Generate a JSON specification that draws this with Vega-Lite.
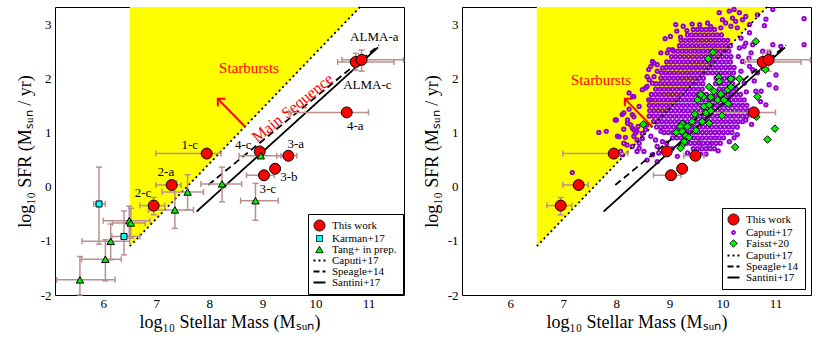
{
"$schema":"https://vega.github.io/schema/vega-lite/v6.json",
"padding":{"left":15,"top":2,"right":5,"bottom":2},
"background":"white",
"config":{
 "view":{"stroke":"black","strokeWidth":1},
 "axis":{"domain":false,"grid":false,"tickSize":0,"tickColor":"black","tickWidth":1,"labelFont":"Liberation Serif","labelFontSize":13,"labelColor":"black","labelOverlap":false,"labelFlush":false,"titleFont":"Liberation Serif","titleFontSize":18,"titleFontWeight":"normal","titleColor":"black"},
 "text":{"font":"Liberation Serif"}
},
"datasets":{
 "tri":[{"m":6.5,"s":-1.1,"top":3.315},{"m":10.84,"s":3.315,"top":3.315}],
 "lines":[{"series":"Caputi+17","m":6.5,"s":-1.1},{"series":"Caputi+17","m":10.84,"s":3.315},{"series":"Speagle+14","m":7.98,"s":0.03},{"series":"Speagle+14","m":11.2,"s":2.61},{"series":"Santini+17","m":7.76,"s":-0.46},{"series":"Santini+17","m":11.18,"s":2.57}],
 "arrow":[{"m":8.67,"s":1.11,"m2":8.16,"s2":1.62}],
 "notes":[{"t":"Starbursts","p":"L","m":8.75,"s":2.19},{"t":"Starbursts","p":"R","m":7.71,"s":1.96},{"t":"Main Sequence","p":"L","m":9.57,"s":1.45},{"t":"3-a","p":"R","m":9.66,"s":0.78}],
 "labs":[{"t":"1-c","m":7.63,"s":0.77},{"t":"2-a","m":7.18,"s":0.27},{"t":"2-c","m":6.75,"s":-0.12},{"t":"4-c","m":8.64,"s":0.76},{"t":"3-a","m":9.63,"s":0.78},{"t":"3-b","m":9.5,"s":0.17},{"t":"3-c","m":9.1,"s":-0.04},{"t":"4-a","m":10.75,"s":1.12},{"t":"ALMA-a","m":11.11,"s":2.77},{"t":"ALMA-c","m":10.98,"s":1.88}],
 "pts":[
  {"series":"This work","m":6.95,"s":-0.35,"xlo":6.69,"xhi":7.16,"ylo":-0.52,"yhi":-0.2},
  {"series":"This work","m":7.29,"s":0.03,"xlo":6.99,"xhi":7.47},
  {"series":"This work","m":7.95,"s":0.61,"xlo":6.99,"xhi":8.22},
  {"series":"This work","m":8.95,"s":0.65},
  {"series":"This work","m":9.03,"s":0.21,"xlo":8.7,"xhi":9.22},
  {"series":"This work","m":9.24,"s":0.33},
  {"series":"This work","m":9.49,"s":0.57,"xlo":9.27,"xhi":9.65},
  {"series":"This work","m":10.59,"s":1.37,"xlo":9.5,"xhi":11.0},
  {"series":"This work","m":10.76,"s":2.3,"xlo":10.42,"xhi":11.48,"ylo":2.15,"yhi":2.46},
  {"series":"This work","m":10.87,"s":2.34,"xlo":10.5,"xhi":11.66,"ylo":2.13,"yhi":2.52},
  {"series":"Karman+17","m":5.92,"s":-0.32,"xlo":5.82,"xhi":6.04,"ylo":-1.06,"yhi":0.36},
  {"series":"Karman+17","m":6.39,"s":-0.92,"xlo":6.16,"xhi":6.69,"ylo":-1.26,"yhi":-0.45},
  {"series":"Tang+ in prep.","m":5.56,"s":-1.72,"xlo":5.12,"xhi":6.22,"ylo":-2.0,"yhi":-1.29},
  {"series":"Tang+ in prep.","m":6.04,"s":-1.34,"xlo":5.59,"xhi":6.34,"ylo":-1.74,"yhi":-0.98},
  {"series":"Tang+ in prep.","m":6.14,"s":-1.01,"xlo":5.6,"xhi":6.5,"ylo":-1.35,"yhi":-0.69},
  {"series":"Tang+ in prep.","m":6.49,"s":-0.63,"xlo":6.0,"xhi":6.88,"ylo":-0.92,"yhi":-0.36},
  {"series":"Tang+ in prep.","m":6.52,"s":-0.67,"xlo":6.17,"xhi":6.79,"ylo":-0.95,"yhi":-0.4},
  {"series":"Tang+ in prep.","m":7.35,"s":-0.43,"xlo":6.85,"xhi":7.7,"ylo":-0.77,"yhi":0.1},
  {"series":"Tang+ in prep.","m":7.59,"s":-0.1,"xlo":7.11,"xhi":7.89,"ylo":-0.43,"yhi":0.22},
  {"series":"Tang+ in prep.","m":8.24,"s":0.05,"xlo":7.84,"xhi":8.61,"ylo":-0.28,"yhi":0.36},
  {"series":"Tang+ in prep.","m":8.97,"s":0.57,"xlo":8.56,"xhi":9.35},
  {"series":"Tang+ in prep.","m":8.87,"s":-0.26,"xlo":8.59,"xhi":9.3,"ylo":-0.62,"yhi":0.06},
  {"series":"Faisst+20","m":8.51,"s":1.15},{"series":"Faisst+20","m":9.73,"s":2.36},{"series":"Faisst+20","m":9.82,"s":2.48},{"series":"Faisst+20","m":10.63,"s":2.68},{"series":"Faisst+20","m":10.81,"s":2.16},{"series":"Faisst+20","m":10.66,"s":1.66},{"series":"Faisst+20","m":10.64,"s":1.29},{"series":"Faisst+20","m":10.24,"s":0.73},{"series":"Faisst+20","m":10.85,"s":0.87},{"series":"Faisst+20","m":10.99,"s":1.07},{"series":"Faisst+20","m":9.93,"s":2.02},{"series":"Faisst+20","m":10.16,"s":1.99},{"series":"Faisst+20","m":10.32,"s":1.99},{"series":"Faisst+20","m":9.75,"s":1.84},{"series":"Faisst+20","m":9.84,"s":1.76},{"series":"Faisst+20","m":9.94,"s":1.94},{"series":"Faisst+20","m":10.1,"s":1.79},{"series":"Faisst+20","m":10.16,"s":1.84},{"series":"Faisst+20","m":9.64,"s":1.66},{"series":"Faisst+20","m":9.78,"s":1.65},{"series":"Faisst+20","m":9.97,"s":1.71},{"series":"Faisst+20","m":9.91,"s":1.6},{"series":"Faisst+20","m":10.03,"s":1.6},{"series":"Faisst+20","m":9.53,"s":1.6},{"series":"Faisst+20","m":9.65,"s":1.48},{"series":"Faisst+20","m":9.75,"s":1.51},{"series":"Faisst+20","m":10.11,"s":1.53},{"series":"Faisst+20","m":9.99,"s":1.31},{"series":"Faisst+20","m":9.48,"s":1.34},{"series":"Faisst+20","m":9.69,"s":1.36},{"series":"Faisst+20","m":9.78,"s":1.4},{"series":"Faisst+20","m":9.62,"s":1.2},{"series":"Faisst+20","m":9.75,"s":1.17},{"series":"Faisst+20","m":9.24,"s":1.16},{"series":"Faisst+20","m":9.21,"s":1.11},{"series":"Faisst+20","m":9.34,"s":1.11},{"series":"Faisst+20","m":9.43,"s":1.2},{"series":"Faisst+20","m":9.5,"s":1.04},{"series":"Faisst+20","m":9.13,"s":1.0},{"series":"Faisst+20","m":9.24,"s":1.02},{"series":"Faisst+20","m":9.31,"s":0.94},{"series":"Faisst+20","m":9.37,"s":0.91},{"series":"Faisst+20","m":9.28,"s":0.83},{"series":"Faisst+20","m":9.23,"s":0.75},{"series":"Faisst+20","m":9.21,"s":0.71},{"series":"Faisst+20","m":9.59,"s":1.7}
 ],
 "caputi":[
  {"m":9.45,"s":2.9},{"m":9.53,"s":2.9},{"m":9.61,"s":2.9},{"m":9.69,"s":2.9},{"m":9.77,"s":2.9},{"m":9.85,"s":2.9},
  {"m":9.34,"s":2.8},{"m":9.42,"s":2.8},{"m":9.5,"s":2.8},{"m":9.58,"s":2.8},{"m":9.66,"s":2.8},{"m":9.74,"s":2.8},{"m":9.82,"s":2.8},{"m":9.9,"s":2.8},{"m":9.98,"s":2.8},
  {"m":9.22,"s":2.7},{"m":9.3,"s":2.7},{"m":9.38,"s":2.7},{"m":9.46,"s":2.7},{"m":9.54,"s":2.7},{"m":9.62,"s":2.7},{"m":9.7,"s":2.7},{"m":9.78,"s":2.7},{"m":9.86,"s":2.7},{"m":9.94,"s":2.7},{"m":10.02,"s":2.7},{"m":10.1,"s":2.7},
  {"m":9.19,"s":2.6},{"m":9.27,"s":2.6},{"m":9.35,"s":2.6},{"m":9.43,"s":2.6},{"m":9.51,"s":2.6},{"m":9.59,"s":2.6},{"m":9.67,"s":2.6},{"m":9.75,"s":2.6},{"m":9.83,"s":2.6},{"m":9.91,"s":2.6},{"m":9.99,"s":2.6},{"m":10.07,"s":2.6},{"m":10.15,"s":2.6},
  {"m":9.08,"s":2.5},{"m":9.16,"s":2.5},{"m":9.24,"s":2.5},{"m":9.32,"s":2.5},{"m":9.4,"s":2.5},{"m":9.48,"s":2.5},{"m":9.56,"s":2.5},{"m":9.64,"s":2.5},{"m":9.72,"s":2.5},{"m":9.8,"s":2.5},{"m":9.88,"s":2.5},{"m":9.96,"s":2.5},{"m":10.04,"s":2.5},{"m":10.12,"s":2.5},
  {"m":9.04,"s":2.4},{"m":9.12,"s":2.4},{"m":9.2,"s":2.4},{"m":9.28,"s":2.4},{"m":9.36,"s":2.4},{"m":9.44,"s":2.4},{"m":9.52,"s":2.4},{"m":9.6,"s":2.4},{"m":9.68,"s":2.4},{"m":9.76,"s":2.4},{"m":9.84,"s":2.4},{"m":9.92,"s":2.4},{"m":10.0,"s":2.4},{"m":10.08,"s":2.4},{"m":10.16,"s":2.4},
  {"m":8.95,"s":2.3},{"m":9.03,"s":2.3},{"m":9.11,"s":2.3},{"m":9.19,"s":2.3},{"m":9.27,"s":2.3},{"m":9.35,"s":2.3},{"m":9.43,"s":2.3},{"m":9.51,"s":2.3},{"m":9.59,"s":2.3},{"m":9.67,"s":2.3},{"m":9.75,"s":2.3},{"m":9.83,"s":2.3},{"m":9.91,"s":2.3},{"m":9.99,"s":2.3},{"m":10.07,"s":2.3},{"m":10.15,"s":2.3},
  {"m":8.94,"s":2.2},{"m":9.02,"s":2.2},{"m":9.1,"s":2.2},{"m":9.18,"s":2.2},{"m":9.26,"s":2.2},{"m":9.34,"s":2.2},{"m":9.42,"s":2.2},{"m":9.5,"s":2.2},{"m":9.58,"s":2.2},{"m":9.66,"s":2.2},{"m":9.74,"s":2.2},{"m":9.82,"s":2.2},{"m":9.9,"s":2.2},{"m":9.98,"s":2.2},{"m":10.06,"s":2.2},{"m":10.14,"s":2.2},{"m":10.22,"s":2.2},
  {"m":8.85,"s":2.1},{"m":8.93,"s":2.1},{"m":9.01,"s":2.1},{"m":9.09,"s":2.1},{"m":9.17,"s":2.1},{"m":9.25,"s":2.1},{"m":9.33,"s":2.1},{"m":9.41,"s":2.1},{"m":9.49,"s":2.1},{"m":9.57,"s":2.1},{"m":9.65,"s":2.1},{"m":9.73,"s":2.1},{"m":9.81,"s":2.1},{"m":9.89,"s":2.1},{"m":9.97,"s":2.1},{"m":10.05,"s":2.1},{"m":10.13,"s":2.1},{"m":10.21,"s":2.1},
  {"m":8.84,"s":2.0},{"m":8.92,"s":2.0},{"m":9.0,"s":2.0},{"m":9.08,"s":2.0},{"m":9.16,"s":2.0},{"m":9.24,"s":2.0},{"m":9.32,"s":2.0},{"m":9.4,"s":2.0},{"m":9.48,"s":2.0},{"m":9.56,"s":2.0},{"m":9.64,"s":2.0},{"m":9.88,"s":2.0},{"m":9.96,"s":2.0},{"m":10.04,"s":2.0},{"m":10.12,"s":2.0},{"m":10.2,"s":2.0},
  {"m":8.75,"s":1.9},{"m":8.83,"s":1.9},{"m":8.91,"s":1.9},{"m":8.99,"s":1.9},{"m":9.07,"s":1.9},{"m":9.15,"s":1.9},{"m":9.23,"s":1.9},{"m":9.31,"s":1.9},{"m":9.39,"s":1.9},{"m":9.47,"s":1.9},{"m":9.55,"s":1.9},{"m":9.63,"s":1.9},{"m":9.87,"s":1.9},{"m":9.95,"s":1.9},{"m":10.03,"s":1.9},{"m":10.11,"s":1.9},{"m":10.19,"s":1.9},
  {"m":8.74,"s":1.8},{"m":8.82,"s":1.8},{"m":8.9,"s":1.8},{"m":8.98,"s":1.8},{"m":9.06,"s":1.8},{"m":9.14,"s":1.8},{"m":9.22,"s":1.8},{"m":9.3,"s":1.8},{"m":9.38,"s":1.8},{"m":9.46,"s":1.8},{"m":9.54,"s":1.8},{"m":9.62,"s":1.8},{"m":9.94,"s":1.8},{"m":10.02,"s":1.8},{"m":10.1,"s":1.8},{"m":10.18,"s":1.8},{"m":10.26,"s":1.8},
  {"m":8.66,"s":1.7},{"m":8.74,"s":1.7},{"m":8.82,"s":1.7},{"m":8.9,"s":1.7},{"m":8.98,"s":1.7},{"m":9.06,"s":1.7},{"m":9.14,"s":1.7},{"m":9.22,"s":1.7},{"m":9.3,"s":1.7},{"m":9.38,"s":1.7},{"m":9.46,"s":1.7},{"m":9.54,"s":1.7},{"m":9.62,"s":1.7},{"m":9.7,"s":1.7},{"m":9.86,"s":1.7},{"m":9.94,"s":1.7},{"m":10.02,"s":1.7},{"m":10.1,"s":1.7},{"m":10.18,"s":1.7},{"m":10.26,"s":1.7},{"m":10.34,"s":1.7},
  {"m":8.65,"s":1.6},{"m":8.73,"s":1.6},{"m":8.81,"s":1.6},{"m":8.89,"s":1.6},{"m":8.97,"s":1.6},{"m":9.05,"s":1.6},{"m":9.13,"s":1.6},{"m":9.21,"s":1.6},{"m":9.29,"s":1.6},{"m":9.37,"s":1.6},{"m":9.45,"s":1.6},{"m":9.53,"s":1.6},{"m":9.61,"s":1.6},{"m":9.69,"s":1.6},{"m":9.77,"s":1.6},{"m":9.85,"s":1.6},{"m":9.93,"s":1.6},{"m":10.01,"s":1.6},{"m":10.09,"s":1.6},{"m":10.17,"s":1.6},{"m":10.25,"s":1.6},{"m":10.33,"s":1.6},{"m":10.41,"s":1.6},
  {"m":8.62,"s":1.5},{"m":8.7,"s":1.5},{"m":8.78,"s":1.5},{"m":8.86,"s":1.5},{"m":8.94,"s":1.5},{"m":9.02,"s":1.5},{"m":9.1,"s":1.5},{"m":9.18,"s":1.5},{"m":9.26,"s":1.5},{"m":9.34,"s":1.5},{"m":9.42,"s":1.5},{"m":9.5,"s":1.5},{"m":9.58,"s":1.5},{"m":9.66,"s":1.5},{"m":9.74,"s":1.5},{"m":9.82,"s":1.5},{"m":9.9,"s":1.5},{"m":9.98,"s":1.5},{"m":10.06,"s":1.5},{"m":10.14,"s":1.5},{"m":10.22,"s":1.5},{"m":10.3,"s":1.5},{"m":10.38,"s":1.5},{"m":10.46,"s":1.5},
  {"m":8.63,"s":1.4},{"m":8.71,"s":1.4},{"m":8.79,"s":1.4},{"m":8.87,"s":1.4},{"m":8.95,"s":1.4},{"m":9.03,"s":1.4},{"m":9.11,"s":1.4},{"m":9.19,"s":1.4},{"m":9.27,"s":1.4},{"m":9.35,"s":1.4},{"m":9.43,"s":1.4},{"m":9.51,"s":1.4},{"m":9.59,"s":1.4},{"m":9.67,"s":1.4},{"m":9.75,"s":1.4},{"m":9.83,"s":1.4},{"m":9.91,"s":1.4},{"m":9.99,"s":1.4},{"m":10.07,"s":1.4},{"m":10.15,"s":1.4},{"m":10.23,"s":1.4},{"m":10.31,"s":1.4},{"m":10.39,"s":1.4},{"m":10.47,"s":1.4},
  {"m":8.62,"s":1.3},{"m":8.7,"s":1.3},{"m":8.78,"s":1.3},{"m":8.86,"s":1.3},{"m":8.94,"s":1.3},{"m":9.02,"s":1.3},{"m":9.1,"s":1.3},{"m":9.18,"s":1.3},{"m":9.26,"s":1.3},{"m":9.34,"s":1.3},{"m":9.42,"s":1.3},{"m":9.5,"s":1.3},{"m":9.58,"s":1.3},{"m":9.66,"s":1.3},{"m":9.74,"s":1.3},{"m":9.82,"s":1.3},{"m":9.9,"s":1.3},{"m":9.98,"s":1.3},{"m":10.06,"s":1.3},{"m":10.14,"s":1.3},{"m":10.22,"s":1.3},{"m":10.3,"s":1.3},{"m":10.38,"s":1.3},{"m":10.46,"s":1.3},
  {"m":8.7,"s":1.2},{"m":8.78,"s":1.2},{"m":8.86,"s":1.2},{"m":8.94,"s":1.2},{"m":9.02,"s":1.2},{"m":9.1,"s":1.2},{"m":9.18,"s":1.2},{"m":9.26,"s":1.2},{"m":9.34,"s":1.2},{"m":9.42,"s":1.2},{"m":9.5,"s":1.2},{"m":9.58,"s":1.2},{"m":9.66,"s":1.2},{"m":9.74,"s":1.2},{"m":9.82,"s":1.2},{"m":9.9,"s":1.2},{"m":9.98,"s":1.2},{"m":10.06,"s":1.2},{"m":10.14,"s":1.2},{"m":10.22,"s":1.2},{"m":10.3,"s":1.2},{"m":10.38,"s":1.2},
  {"m":8.76,"s":1.1},{"m":8.84,"s":1.1},{"m":8.92,"s":1.1},{"m":9.0,"s":1.1},{"m":9.08,"s":1.1},{"m":9.16,"s":1.1},{"m":9.24,"s":1.1},{"m":9.32,"s":1.1},{"m":9.4,"s":1.1},{"m":9.48,"s":1.1},{"m":9.56,"s":1.1},{"m":9.64,"s":1.1},{"m":9.72,"s":1.1},{"m":9.8,"s":1.1},{"m":9.88,"s":1.1},{"m":9.96,"s":1.1},{"m":10.04,"s":1.1},{"m":10.12,"s":1.1},{"m":10.2,"s":1.1},{"m":10.28,"s":1.1},
  {"m":8.9,"s":1.0},{"m":8.98,"s":1.0},{"m":9.06,"s":1.0},{"m":9.14,"s":1.0},{"m":9.22,"s":1.0},{"m":9.3,"s":1.0},{"m":9.38,"s":1.0},{"m":9.46,"s":1.0},{"m":9.54,"s":1.0},{"m":9.62,"s":1.0},{"m":9.7,"s":1.0},{"m":9.78,"s":1.0},{"m":9.86,"s":1.0},{"m":9.94,"s":1.0},{"m":10.02,"s":1.0},{"m":10.1,"s":1.0},{"m":10.18,"s":1.0},
  {"m":9.06,"s":0.9},{"m":9.14,"s":0.9},{"m":9.22,"s":0.9},{"m":9.3,"s":0.9},{"m":9.38,"s":0.9},{"m":9.46,"s":0.9},{"m":9.54,"s":0.9},{"m":9.62,"s":0.9},{"m":9.7,"s":0.9},{"m":9.78,"s":0.9},{"m":9.86,"s":0.9},{"m":9.94,"s":0.9},{"m":10.02,"s":0.9},
  {"m":9.24,"s":0.8},{"m":9.32,"s":0.8},{"m":9.4,"s":0.8},{"m":9.48,"s":0.8},{"m":9.56,"s":0.8},{"m":9.64,"s":0.8},{"m":9.72,"s":0.8},{"m":9.8,"s":0.8},{"m":9.88,"s":0.8},{"m":9.96,"s":0.8},
  {"m":9.45,"s":0.7},{"m":9.53,"s":0.7},{"m":9.61,"s":0.7},{"m":9.69,"s":0.7},{"m":9.77,"s":0.7},{"m":9.85,"s":0.7},
  {"m":8.92,"s":2.73},{"m":9.14,"s":2.87},{"m":9.26,"s":2.96},{"m":9.33,"s":2.88},{"m":9.43,"s":3.0},{"m":9.57,"s":2.99},{"m":9.72,"s":3.02},{"m":9.78,"s":2.95},{"m":9.21,"s":2.76},{"m":9.06,"s":2.53},{"m":8.96,"s":2.47},{"m":8.71,"s":2.28},{"m":8.65,"s":2.22},{"m":8.87,"s":2.19},{"m":8.77,"s":2.13},{"m":8.71,"s":2.03},{"m":8.62,"s":1.97},{"m":8.68,"s":1.91},{"m":8.31,"s":1.66},{"m":8.49,"s":1.79},{"m":8.58,"s":1.85},
  {"m":9.94,"s":3.21},{"m":10.0,"s":3.08},{"m":10.13,"s":3.24},{"m":10.22,"s":3.27},{"m":10.32,"s":3.21},{"m":10.19,"s":3.11},{"m":10.06,"s":3.02},{"m":9.97,"s":2.93},{"m":10.16,"s":2.96},{"m":10.25,"s":3.05},{"m":10.38,"s":3.08},{"m":10.28,"s":2.93},{"m":10.44,"s":3.14},{"m":10.51,"s":2.99},{"m":10.95,"s":3.27},{"m":11.54,"s":3.1},
  {"m":10.51,"s":2.84},{"m":10.35,"s":2.74},{"m":10.44,"s":2.65},{"m":10.57,"s":2.62},{"m":10.32,"s":2.56},{"m":10.54,"s":2.47},{"m":10.76,"s":2.5},{"m":10.95,"s":2.62},{"m":11.1,"s":2.59},{"m":10.38,"s":2.31},{"m":10.51,"s":2.22},{"m":10.35,"s":2.13},{"m":11.01,"s":2.06},{"m":10.88,"s":1.88},{"m":10.63,"s":1.76},{"m":11.01,"s":1.82},{"m":11.54,"s":2.62},{"m":10.3,"s":2.4},{"m":10.79,"s":2.97},{"m":10.82,"s":3.09},{"m":10.66,"s":3.17},{"m":10.73,"s":1.76},{"m":10.66,"s":2.1},
  {"m":8.24,"s":1.43},{"m":8.14,"s":1.36},{"m":8.33,"s":1.29},{"m":8.21,"s":1.23},{"m":8.0,"s":1.23},{"m":8.27,"s":1.14},{"m":8.14,"s":1.06},{"m":8.33,"s":1.05},{"m":7.67,"s":1.0},{"m":7.81,"s":1.02},{"m":8.02,"s":0.93},{"m":8.17,"s":0.91},{"m":8.33,"s":0.93},{"m":8.49,"s":0.98},{"m":8.43,"s":0.8},{"m":8.2,"s":0.77},{"m":8.43,"s":0.71},{"m":8.52,"s":0.65},{"m":8.58,"s":0.49},{"m":8.68,"s":0.59},{"m":8.77,"s":0.74},{"m":8.65,"s":0.93},{"m":8.74,"s":0.86},{"m":8.55,"s":1.05},{"m":8.58,"s":1.14},{"m":8.84,"s":1.02},{"m":8.87,"s":0.83},{"m":8.14,"s":0.8},{"m":8.49,"s":0.89},{"m":8.08,"s":0.65},{"m":8.11,"s":0.59},{"m":8.39,"s":0.86},{"m":8.8,"s":0.62},{"m":8.77,"s":0.46},
  {"m":10.82,"s":1.51},{"m":10.72,"s":1.57},{"m":10.28,"s":0.96},{"m":10.22,"s":0.9},{"m":10.13,"s":0.83},{"m":9.69,"s":0.6},{"m":9.92,"s":0.66},{"m":10.44,"s":1.23},{"m":10.5,"s":1.36},{"m":10.55,"s":1.15},{"m":9.15,"s":0.56},{"m":9.34,"s":0.62},{"m":9.59,"s":0.6},{"m":7.17,"s":0.26},
  {"m":8.11,"s":1.33},{"m":8.21,"s":1.17},{"m":8.3,"s":1.08},{"m":8.39,"s":1.02},{"m":8.58,"s":2.03},{"m":8.84,"s":2.47},{"m":9.02,"s":2.77},{"m":9.12,"s":2.99},{"m":8.61,"s":1.6},{"m":8.77,"s":2.25},{"m":8.99,"s":2.53},{"m":8.61,"s":2.16},{"m":8.68,"s":2.31},{"m":8.33,"s":1.66},{"m":8.24,"s":1.73},{"m":8.55,"s":1.82},{"m":8.43,"s":1.48},{"m":8.3,"s":1.33},{"m":7.98,"s":1.23},{"m":8.05,"s":0.92},{"m":8.41,"s":1.11},{"m":8.36,"s":0.99},{"m":8.3,"s":0.74},{"m":8.39,"s":0.65},
  {"m":10.41,"s":2.59},{"m":10.5,"s":2.37},{"m":10.57,"s":2.16},{"m":10.41,"s":1.91},{"m":10.88,"s":2.47},{"m":10.6,"s":1.95},{"m":10.45,"s":1.75},{"m":9.05,"s":0.7},{"m":8.95,"s":0.8}
 ]
},
"spacing":17,
"resolve":{"scale":{"fill":"independent"},"legend":{"fill":"independent"}},
"hconcat":[
 {
  "width":349,"height":288,
  "resolve":{"axis":{"x":"independent","y":"independent"}},
  "layer":[
   {"data":{"name":"tri"},"mark":{"type":"area","color":"#ffff00","opacity":1},
    "encoding":{
     "x":{"field":"m","type":"quantitative","scale":{"domain":[5.09,11.67],"nice":false,"zero":false},
      "axis":{"orient":"bottom","values":[5.2,5.4,5.6,5.8,6,6.2,6.4,6.6,6.8,7,7.2,7.4,7.6,7.8,8,8.2,8.4,8.6,8.8,9,9.2,9.4,9.6,9.8,10,10.2,10.4,10.6,10.8,11,11.2,11.4,11.6],"labelExpr":"abs(datum.value-round(datum.value))<0.001 ? ''+round(datum.value) : ''","title":"log₁₀ Stellar Mass (Mₛᵤₙ)","labelPadding":2,"titlePadding":3,"encode":{"ticks":{"update":{"y2":{"signal":"abs(datum.value-round(datum.value))<0.001 ? -6 : -3"}}}}}},
     "y":{"field":"s","type":"quantitative","scale":{"domain":[-2,3.315],"nice":false,"zero":false},
      "axis":{"orient":"left","values":[-2,-1.8,-1.6,-1.4,-1.2,-1,-0.8,-0.6,-0.4,-0.2,0,0.2,0.4,0.6,0.8,1,1.2,1.4,1.6,1.8,2,2.2,2.4,2.6,2.8,3,3.2],"labelExpr":"abs(datum.value-round(datum.value))<0.001 ? ''+round(datum.value) : ''","title":"log₁₀ SFR (Mₛᵤₙ / yr)","labelPadding":4,"titlePadding":6,"encode":{"ticks":{"update":{"x2":{"signal":"abs(datum.value-round(datum.value))<0.001 ? 6 : 3"}}}}}},
     "y2":{"field":"top"}}},
   {"data":{"name":"lines"},"mark":{"type":"line","color":"black","strokeWidth":1.8},
    "encoding":{
     "x":{"field":"m","type":"quantitative","axis":{"orient":"top","values":[5.2,5.4,5.6,5.8,6,6.2,6.4,6.6,6.8,7,7.2,7.4,7.6,7.8,8,8.2,8.4,8.6,8.8,9,9.2,9.4,9.6,9.8,10,10.2,10.4,10.6,10.8,11,11.2,11.4,11.6],"labels":false,"title":null,"encode":{"ticks":{"update":{"y2":{"signal":"abs(datum.value-round(datum.value))<0.001 ? 6 : 3"}}}}}},
     "y":{"field":"s","type":"quantitative","axis":{"orient":"right","values":[-2,-1.8,-1.6,-1.4,-1.2,-1,-0.8,-0.6,-0.4,-0.2,0,0.2,0.4,0.6,0.8,1,1.2,1.4,1.6,1.8,2,2.2,2.4,2.6,2.8,3,3.2],"labels":false,"title":null,"encode":{"ticks":{"update":{"x2":{"signal":"abs(datum.value-round(datum.value))<0.001 ? -6 : -3"}}}}}},
     "strokeDash":{"field":"series","type":"nominal","scale":{"domain":["Caputi+17","Speagle+14","Santini+17"],"range":[[2,3],[7,4],[1,0]]},"legend":null}}},
   {"data":{"name":"arrow"},"mark":{"type":"rule","color":"#ff0000","strokeWidth":2},
    "encoding":{"x":{"field":"m","type":"quantitative","axis":null},"y":{"field":"s","type":"quantitative","axis":null},"x2":{"field":"m2"},"y2":{"field":"s2"}}},
   {"data":{"name":"arrow"},"mark":{"type":"point","shape":"M-1,1L0,0L1,1","angle":-45,"size":110,"filled":false,"color":"#ff0000","strokeWidth":2,"opacity":1},
    "encoding":{"x":{"field":"m2","type":"quantitative","axis":null},"y":{"field":"s2","type":"quantitative","axis":null}}},
   {"data":{"name":"notes"},"transform":[{"filter":"datum.p==='L' && datum.t==='Starbursts'"}],"mark":{"type":"text","font":"Liberation Serif","fontSize":15,"color":"#ff0000"},
    "encoding":{"x":{"field":"m","type":"quantitative","axis":null},"y":{"field":"s","type":"quantitative","axis":null},"text":{"field":"t"}}},
   {"data":{"name":"notes"},"transform":[{"filter":"datum.t==='Main Sequence'"}],"mark":{"type":"text","font":"Liberation Serif","fontSize":16,"color":"#ff0000","angle":-39},
    "encoding":{"x":{"field":"m","type":"quantitative","axis":null},"y":{"field":"s","type":"quantitative","axis":null},"text":{"field":"t"}}},
   {"data":{"name":"pts"},"transform":[{"filter":"datum.series!=='Faisst+20' && isValid(datum.xlo)"}],"mark":{"type":"rule","color":"#bc8f8f","strokeWidth":1.5},
    "encoding":{"x":{"field":"xlo","type":"quantitative","axis":null},"x2":{"field":"xhi"},"y":{"field":"s","type":"quantitative","axis":null}}},
   {"data":{"name":"pts"},"transform":[{"filter":"datum.series!=='Faisst+20' && isValid(datum.xlo)"},{"fold":["xlo","xhi"],"as":["k","v"]}],"mark":{"type":"tick","orient":"vertical","color":"#bc8f8f","size":6,"thickness":1.5,"opacity":1},
    "encoding":{"x":{"field":"v","type":"quantitative","axis":null},"y":{"field":"s","type":"quantitative","axis":null}}},
   {"data":{"name":"pts"},"transform":[{"filter":"datum.series!=='Faisst+20' && isValid(datum.ylo)"}],"mark":{"type":"rule","color":"#bc8f8f","strokeWidth":1.5},
    "encoding":{"x":{"field":"m","type":"quantitative","axis":null},"y":{"field":"ylo","type":"quantitative","axis":null},"y2":{"field":"yhi"}}},
   {"data":{"name":"pts"},"transform":[{"filter":"datum.series!=='Faisst+20' && isValid(datum.ylo)"},{"fold":["ylo","yhi"],"as":["k","v"]}],"mark":{"type":"tick","orient":"horizontal","color":"#bc8f8f","size":6,"thickness":1.5,"opacity":1},
    "encoding":{"x":{"field":"m","type":"quantitative","axis":null},"y":{"field":"v","type":"quantitative","axis":null}}},
   {"data":{"name":"pts"},"transform":[{"filter":"datum.series==='This work'"}],"mark":{"type":"point","shape":"circle","filled":true,"size":120,"stroke":"black","strokeWidth":1,"opacity":1},
    "encoding":{"x":{"field":"m","type":"quantitative","axis":null},"y":{"field":"s","type":"quantitative","axis":null},
     "fill":{"field":"series","type":"nominal","scale":{"domain":["This work","Karman+17","Tang+ in prep.","Caputi+17","Speagle+14","Santini+17"],"range":["#ff0000","#00ffff","#00f000","#000000","#000000","#000000"]},
      "legend":{"orient":"bottom-right","offset":1,"title":null,"padding":6,"strokeColor":"black","fillColor":"white","labelFont":"Liberation Serif","labelFontSize":11,"labelColor":"black","rowPadding":-5.5,"labelOffset":7,"symbolSize":144,"symbolOpacity":1,
       "encoding":{"symbols":{
        "shape":{"value":{"expr":"datum.value==='This work'?'circle':datum.value==='Karman+17'?'square':datum.value==='Tang+ in prep.'?'triangle-up':'M-1,0H1'"}},
        "stroke":{"value":"black"},
        "size":{"value":{"expr":"datum.value==='This work'?120:datum.value==='Karman+17'?36:datum.value==='Tang+ in prep.'?55:144"}},
        "strokeDash":{"value":{"expr":"datum.value==='Caputi+17'?[2,3]:datum.value==='Speagle+14'?[6,3]:[1,0]"}},
        "strokeWidth":{"value":{"expr":"indexof(['Caputi+17','Speagle+14','Santini+17'],datum.value)>=0?1.8:1"}}}}}}}},
   {"data":{"name":"pts"},"transform":[{"filter":"datum.series==='Karman+17'"}],"mark":{"type":"point","shape":"square","filled":true,"size":36,"stroke":"black","strokeWidth":1,"opacity":1},
    "encoding":{"x":{"field":"m","type":"quantitative","axis":null},"y":{"field":"s","type":"quantitative","axis":null},
     "fill":{"field":"series","type":"nominal","scale":{"domain":["This work","Karman+17","Tang+ in prep.","Caputi+17","Speagle+14","Santini+17"],"range":["#ff0000","#00ffff","#00f000","#000000","#000000","#000000"]}}}},
   {"data":{"name":"pts"},"transform":[{"filter":"datum.series==='Tang+ in prep.'"}],"mark":{"type":"point","shape":"triangle-up","filled":true,"size":55,"stroke":"black","strokeWidth":1,"opacity":1},
    "encoding":{"x":{"field":"m","type":"quantitative","axis":null},"y":{"field":"s","type":"quantitative","axis":null},
     "fill":{"field":"series","type":"nominal","scale":{"domain":["This work","Karman+17","Tang+ in prep.","Caputi+17","Speagle+14","Santini+17"],"range":["#ff0000","#00ffff","#00f000","#000000","#000000","#000000"]}}}},
   {"data":{"name":"labs"},"mark":{"type":"text","font":"Liberation Serif","fontSize":13,"color":"black"},
    "encoding":{"x":{"field":"m","type":"quantitative","axis":null},"y":{"field":"s","type":"quantitative","axis":null},"text":{"field":"t"}}}
  ]
 },
 {
  "width":349,"height":288,
  "resolve":{"axis":{"x":"independent","y":"independent"}},
  "layer":[
   {"data":{"name":"tri"},"mark":{"type":"area","color":"#ffff00","opacity":1},
    "encoding":{
     "x":{"field":"m","type":"quantitative","scale":{"domain":[5.09,11.67],"nice":false,"zero":false},
      "axis":{"orient":"bottom","values":[5.2,5.4,5.6,5.8,6,6.2,6.4,6.6,6.8,7,7.2,7.4,7.6,7.8,8,8.2,8.4,8.6,8.8,9,9.2,9.4,9.6,9.8,10,10.2,10.4,10.6,10.8,11,11.2,11.4,11.6],"labelExpr":"abs(datum.value-round(datum.value))<0.001 ? ''+round(datum.value) : ''","title":"log₁₀ Stellar Mass (Mₛᵤₙ)","labelPadding":2,"titlePadding":3,"encode":{"ticks":{"update":{"y2":{"signal":"abs(datum.value-round(datum.value))<0.001 ? -6 : -3"}}}}}},
     "y":{"field":"s","type":"quantitative","scale":{"domain":[-2,3.315],"nice":false,"zero":false},
      "axis":{"orient":"left","values":[-2,-1.8,-1.6,-1.4,-1.2,-1,-0.8,-0.6,-0.4,-0.2,0,0.2,0.4,0.6,0.8,1,1.2,1.4,1.6,1.8,2,2.2,2.4,2.6,2.8,3,3.2],"labelExpr":"abs(datum.value-round(datum.value))<0.001 ? ''+round(datum.value) : ''","title":"log₁₀ SFR (Mₛᵤₙ / yr)","labelPadding":4,"titlePadding":6,"encode":{"ticks":{"update":{"x2":{"signal":"abs(datum.value-round(datum.value))<0.001 ? 6 : 3"}}}}}},
     "y2":{"field":"top"}}},
   {"data":{"name":"notes"},"transform":[{"filter":"datum.p==='R' && datum.t==='3-a'"}],"mark":{"type":"text","font":"Liberation Serif","fontSize":13,"color":"#222222"},
    "encoding":{"x":{"field":"m","type":"quantitative","axis":null},"y":{"field":"s","type":"quantitative","axis":null},"text":{"field":"t"}}},
   {"data":{"name":"caputi"},"mark":{"type":"point","shape":"circle","filled":false,"color":"#9400d3","size":11,"strokeWidth":2,"opacity":1},
    "encoding":{"x":{"field":"m","type":"quantitative","axis":null},"y":{"field":"s","type":"quantitative","axis":null}}},
   {"data":{"name":"lines"},"mark":{"type":"line","color":"black","strokeWidth":1.8},
    "encoding":{
     "x":{"field":"m","type":"quantitative","axis":{"orient":"top","values":[5.2,5.4,5.6,5.8,6,6.2,6.4,6.6,6.8,7,7.2,7.4,7.6,7.8,8,8.2,8.4,8.6,8.8,9,9.2,9.4,9.6,9.8,10,10.2,10.4,10.6,10.8,11,11.2,11.4,11.6],"labels":false,"title":null,"encode":{"ticks":{"update":{"y2":{"signal":"abs(datum.value-round(datum.value))<0.001 ? 6 : 3"}}}}}},
     "y":{"field":"s","type":"quantitative","axis":{"orient":"right","values":[-2,-1.8,-1.6,-1.4,-1.2,-1,-0.8,-0.6,-0.4,-0.2,0,0.2,0.4,0.6,0.8,1,1.2,1.4,1.6,1.8,2,2.2,2.4,2.6,2.8,3,3.2],"labels":false,"title":null,"encode":{"ticks":{"update":{"x2":{"signal":"abs(datum.value-round(datum.value))<0.001 ? -6 : -3"}}}}}},
     "strokeDash":{"field":"series","type":"nominal","scale":{"domain":["Caputi+17","Speagle+14","Santini+17"],"range":[[2,3],[7,4],[1,0]]},"legend":null}}},
   {"data":{"name":"arrow"},"mark":{"type":"rule","color":"#ff0000","strokeWidth":2},
    "encoding":{"x":{"field":"m","type":"quantitative","axis":null},"y":{"field":"s","type":"quantitative","axis":null},"x2":{"field":"m2"},"y2":{"field":"s2"}}},
   {"data":{"name":"arrow"},"mark":{"type":"point","shape":"M-1,1L0,0L1,1","angle":-45,"size":110,"filled":false,"color":"#ff0000","strokeWidth":2,"opacity":1},
    "encoding":{"x":{"field":"m2","type":"quantitative","axis":null},"y":{"field":"s2","type":"quantitative","axis":null}}},
   {"data":{"name":"notes"},"transform":[{"filter":"datum.p==='R' && datum.t==='Starbursts'"}],"mark":{"type":"text","font":"Liberation Serif","fontSize":15,"color":"#ff0000"},
    "encoding":{"x":{"field":"m","type":"quantitative","axis":null},"y":{"field":"s","type":"quantitative","axis":null},"text":{"field":"t"}}},
   {"data":{"name":"pts"},"transform":[{"filter":"datum.series==='This work' && isValid(datum.xlo)"}],"mark":{"type":"rule","color":"#bc8f8f","strokeWidth":1.5},
    "encoding":{"x":{"field":"xlo","type":"quantitative","axis":null},"x2":{"field":"xhi"},"y":{"field":"s","type":"quantitative","axis":null}}},
   {"data":{"name":"pts"},"transform":[{"filter":"datum.series==='This work' && isValid(datum.xlo)"},{"fold":["xlo","xhi"],"as":["k","v"]}],"mark":{"type":"tick","orient":"vertical","color":"#bc8f8f","size":6,"thickness":1.5,"opacity":1},
    "encoding":{"x":{"field":"v","type":"quantitative","axis":null},"y":{"field":"s","type":"quantitative","axis":null}}},
   {"data":{"name":"pts"},"transform":[{"filter":"datum.series==='This work' && isValid(datum.ylo)"}],"mark":{"type":"rule","color":"#bc8f8f","strokeWidth":1.5},
    "encoding":{"x":{"field":"m","type":"quantitative","axis":null},"y":{"field":"ylo","type":"quantitative","axis":null},"y2":{"field":"yhi"}}},
   {"data":{"name":"pts"},"transform":[{"filter":"datum.series==='This work' && isValid(datum.ylo)"},{"fold":["ylo","yhi"],"as":["k","v"]}],"mark":{"type":"tick","orient":"horizontal","color":"#bc8f8f","size":6,"thickness":1.5,"opacity":1},
    "encoding":{"x":{"field":"m","type":"quantitative","axis":null},"y":{"field":"v","type":"quantitative","axis":null}}},
   {"data":{"name":"pts"},"transform":[{"filter":"datum.series==='Faisst+20'"}],"mark":{"type":"point","shape":"diamond","filled":true,"size":56,"stroke":"black","strokeWidth":1,"opacity":1},
    "encoding":{"x":{"field":"m","type":"quantitative","axis":null},"y":{"field":"s","type":"quantitative","axis":null},
     "fill":{"field":"series","type":"nominal","scale":{"domain":["This work","Caputi+17 ","Faisst+20","Caputi+17","Speagle+14","Santini+17"],"range":["#ff0000","transparent","#00f000","#000000","#000000","#000000"]}}}},
   {"data":{"name":"pts"},"transform":[{"filter":"datum.series==='This work'"}],"mark":{"type":"point","shape":"circle","filled":true,"size":120,"stroke":"black","strokeWidth":1,"opacity":1},
    "encoding":{"x":{"field":"m","type":"quantitative","axis":null},"y":{"field":"s","type":"quantitative","axis":null},
     "fill":{"field":"series","type":"nominal","scale":{"domain":["This work","Caputi+17 ","Faisst+20","Caputi+17","Speagle+14","Santini+17"],"range":["#ff0000","transparent","#00f000","#000000","#000000","#000000"]},
      "legend":{"orient":"bottom-right","offset":6,"title":null,"padding":6,"strokeColor":"black","fillColor":"white","labelFont":"Liberation Serif","labelFontSize":11,"labelColor":"black","rowPadding":-5.5,"labelOffset":7,"symbolSize":144,"symbolOpacity":1,
       "encoding":{"symbols":{
        "shape":{"value":{"expr":"datum.value==='This work'?'circle':datum.value==='Caputi+17 '?'circle':datum.value==='Faisst+20'?'diamond':'M-1,0H1'"}},
        "stroke":{"value":{"expr":"datum.value==='Caputi+17 '?'#9400d3':'black'"}},
        "size":{"value":{"expr":"datum.value==='This work'?120:datum.value==='Caputi+17 '?9:datum.value==='Faisst+20'?56:144"}},
        "strokeDash":{"value":{"expr":"datum.value==='Caputi+17'?[2,3]:datum.value==='Speagle+14'?[6,3]:[1,0]"}},
        "strokeWidth":{"value":{"expr":"indexof(['Caputi+17','Speagle+14','Santini+17'],datum.value)>=0?1.8:datum.value==='Caputi+17 '?1.8:1"}}}}}}}}
  ]
 }
]
}
